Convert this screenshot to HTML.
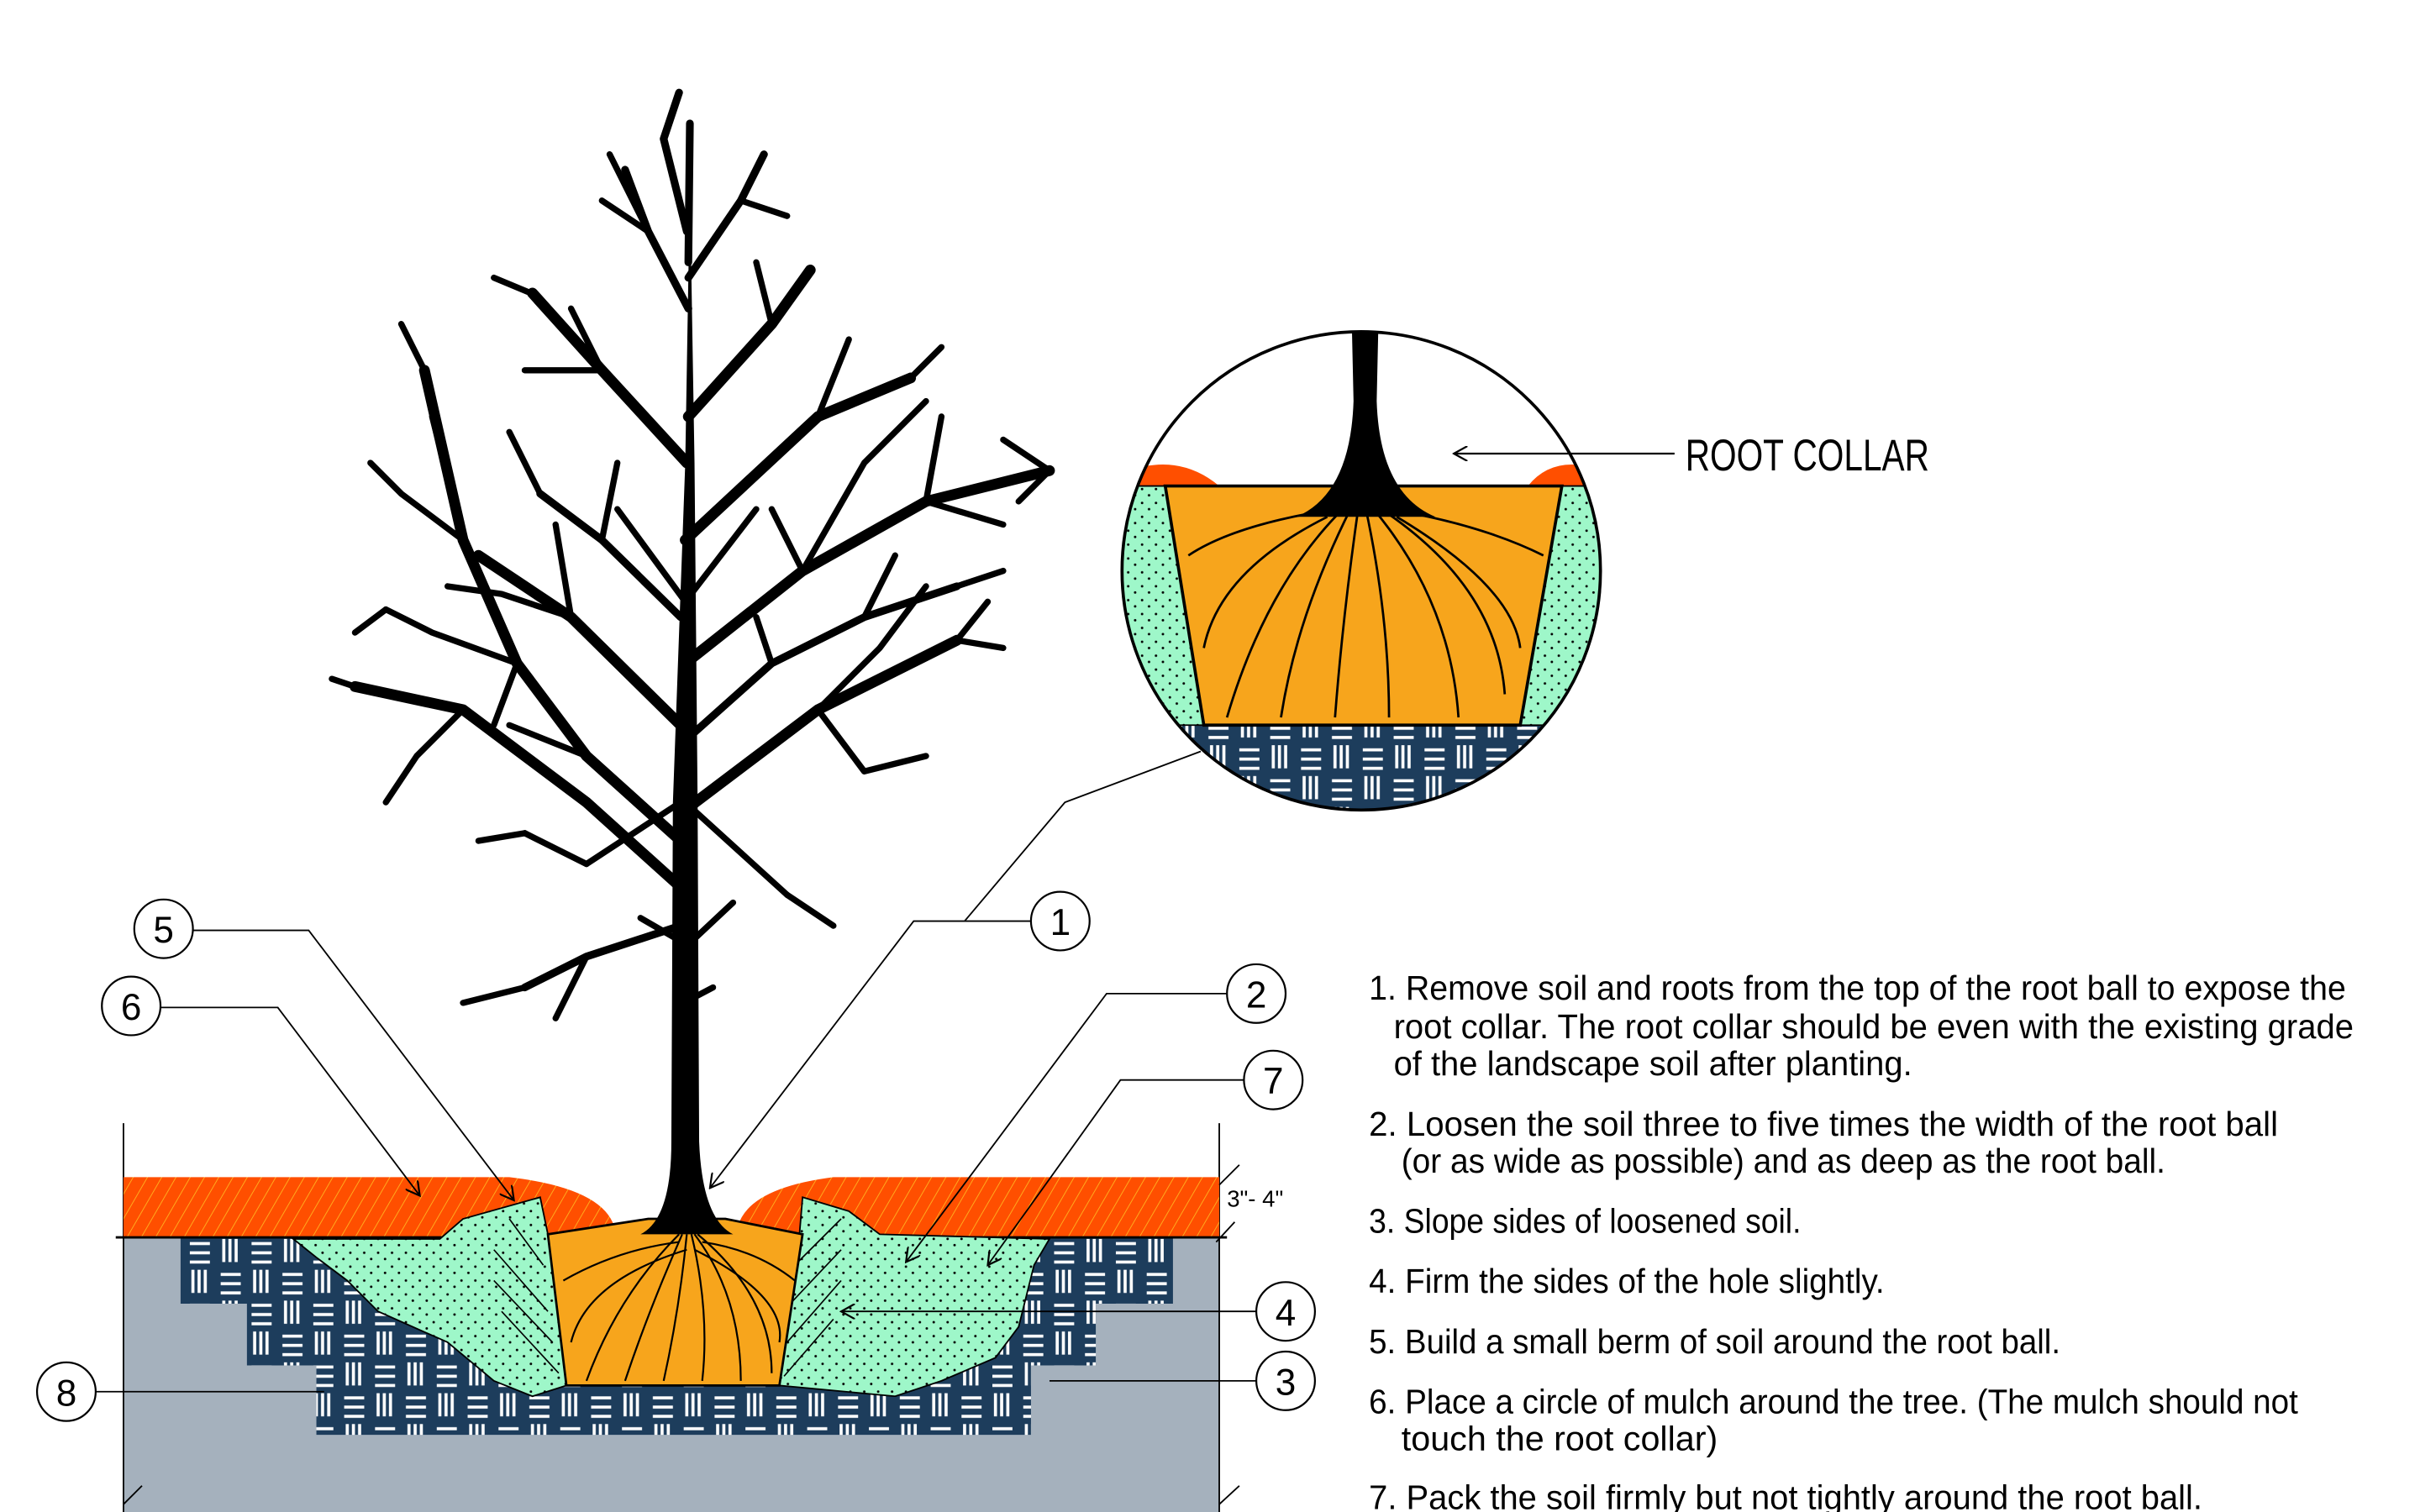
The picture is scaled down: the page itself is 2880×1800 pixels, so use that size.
<!DOCTYPE html>
<html><head><meta charset="utf-8"><style>
html,body{margin:0;padding:0;background:#fff;}
svg{display:block;}
text{font-family:"Liberation Sans Narrow","Liberation Sans",sans-serif;}
</style></head><body>
<svg width="2880" height="1800" viewBox="0 0 1568 980" preserveAspectRatio="none" xmlns="http://www.w3.org/2000/svg">
<defs>
<pattern id="mulch" width="8" height="8" patternUnits="userSpaceOnUse" patternTransform="rotate(30)">
<rect width="8" height="8" fill="#ff4f00"/><line x1="0" y1="0" x2="0" y2="8" stroke="#ffb020" stroke-width="1"/>
</pattern>
<pattern id="blue" width="40" height="40" patternUnits="userSpaceOnUse">
<rect width="40" height="40" fill="#1d3d5c"/>
<g stroke="#fff" stroke-width="2">
<line x1="3" y1="6" x2="16" y2="6"/><line x1="3" y1="12" x2="16" y2="12"/><line x1="3" y1="18" x2="16" y2="18"/>
<line x1="25" y1="3" x2="25" y2="18"/><line x1="29" y1="3" x2="29" y2="18"/><line x1="33" y1="3" x2="33" y2="18"/>
<line x1="5" y1="23" x2="5" y2="38"/><line x1="9" y1="23" x2="9" y2="38"/><line x1="13" y1="23" x2="13" y2="38"/>
<line x1="23" y1="26" x2="36" y2="26"/><line x1="23" y1="32" x2="36" y2="32"/><line x1="23" y1="38" x2="36" y2="38"/>
</g></pattern>
<pattern id="green" width="9" height="9" patternUnits="userSpaceOnUse">
<rect width="9" height="9" fill="#9ef7c9"/><circle cx="2" cy="2" r="0.8" fill="#000"/><circle cx="6.5" cy="6" r="0.8" fill="#000"/>
</pattern>
<marker id="ar" markerWidth="10" markerHeight="10" refX="9" refY="5" orient="auto" markerUnits="userSpaceOnUse">
<path d="M0,0 L9,5 L0,10" fill="none" stroke="#000" stroke-width="1.2"/></marker>
<clipPath id="cc"><circle cx="882" cy="370" r="155"/></clipPath>
</defs>

<!-- ground -->
<rect x="80" y="802" width="710" height="178" fill="#a5b1bd"/>
<line x1="80" y1="728" x2="80" y2="980" stroke="#000" stroke-width="1"/>
<line x1="790" y1="728" x2="790" y2="980" stroke="#000" stroke-width="1"/>
<path d="M117,802 H760 V845 H710 V885 H668 V930 H205 V885 H160 V845 H117 Z" fill="url(#blue)"/>
<!-- mulch -->
<path d="M80,763 H330 Q390,770 398,795 L398,802 H80 Z" fill="url(#mulch)"/>
<path d="M790,763 H540 Q485,770 478,795 L478,802 H790 Z" fill="url(#mulch)"/>
<line x1="75" y1="802" x2="795" y2="802" stroke="#000" stroke-width="1.5"/>
<!-- green soil -->
<path d="M190,803 H285 L300,790 L350,776 L355,800 L367,898 L345,905 L320,895 L290,870 L245,850 L225,830 L205,815 Z" fill="url(#green)" stroke="#000" stroke-width="1"/>
<path d="M520,776 L550,785 L570,800 L680,803 L670,820 L660,860 L645,880 L610,895 L580,905 L505,898 L518,800 Z" fill="url(#green)" stroke="#000" stroke-width="1"/>
<g stroke="#000" stroke-width="0.9">
<line x1="320" y1="810" x2="355" y2="850"/><line x1="320" y1="830" x2="358" y2="870"/><line x1="325" y1="850" x2="362" y2="890"/><line x1="330" y1="790" x2="352" y2="820"/>
<line x1="545" y1="790" x2="515" y2="820"/><line x1="545" y1="810" x2="512" y2="845"/><line x1="545" y1="830" x2="510" y2="870"/><line x1="540" y1="855" x2="508" y2="892"/>
</g>
<!-- root ball -->
<path d="M355,800 L420,790 L470,790 L520,800 L505,898 L367,898 Z" fill="#f7a51c" stroke="#000" stroke-width="1.5"/>
<g stroke="#000" stroke-width="1.2" fill="none">
<path d="M440,800 Q400,840 380,895"/><path d="M442,800 Q420,850 405,895"/><path d="M445,800 Q440,850 430,895"/>
<path d="M448,800 Q460,850 455,895"/><path d="M450,800 Q480,840 480,895"/><path d="M452,800 Q500,840 500,890"/>
<path d="M440,805 Q400,810 365,830"/><path d="M455,805 Q490,810 515,830"/><path d="M445,810 Q380,830 370,870"/><path d="M450,810 Q510,840 505,870"/>
</g>
<path d="M415,800 Q435,790 435,740 L436,520 L444,300 L447,120 L450,300 L452,520 L453,740 Q455,790 475,800 Z" fill="#000"/>

<!-- tree -->
<g stroke="#000" fill="none" stroke-linecap="round" stroke-linejoin="round">
<path d="M446,170 L447,80" stroke-width="5"/>
<g stroke-width="7">
<path d="M441,545 L380,490 L335,430 L300,350 L275,240"/>
<path d="M441,470 L370,400 L310,360"/>
<path d="M441,575 L380,520 L300,460 L230,445"/>
<path d="M444,430 L520,370 L600,325 L680,305"/>
<path d="M444,525 L530,460 L620,415"/>
<path d="M444,350 L530,270 L590,245"/>
<path d="M445,300 L390,240 L345,190"/>
<path d="M446,270 L500,210 L525,175"/>
</g>
<g stroke-width="5">
<path d="M446,200 L420,150 L405,110"/>
<path d="M446,180 L480,130 L495,100"/>
<path d="M445,150 L430,90 L440,60"/>
<path d="M441,600 L380,620 L340,640"/>
<path d="M444,480 L500,430 L560,400 L620,380"/>
<path d="M441,400 L390,350 L350,320"/>
</g>
<g stroke-width="4">
<path d="M300,350 L260,320 L240,300"/><path d="M335,430 L280,410 L250,395"/><path d="M300,460 L270,490 L250,520"/>
<path d="M380,490 L330,470"/><path d="M370,400 L360,340"/><path d="M370,400 L325,385 L290,380"/>
<path d="M520,370 L560,300 L600,260"/><path d="M600,325 L610,270"/><path d="M600,325 L650,340"/><path d="M530,460 L570,420 L600,380"/>
<path d="M530,460 L560,500 L600,490"/><path d="M620,415 L640,390"/><path d="M530,270 L550,220"/><path d="M590,245 L610,225"/>
<path d="M390,240 L370,200"/><path d="M390,240 L340,240"/><path d="M500,210 L490,170"/><path d="M420,150 L390,130"/>
<path d="M480,130 L510,140"/><path d="M420,150 L395,100"/><path d="M275,240 L260,210"/><path d="M300,350 L280,270"/>
<path d="M441,610 L415,595"/><path d="M443,615 L475,585"/><path d="M443,650 L462,640"/><path d="M441,520 L380,560"/>
<path d="M444,520 L510,580"/><path d="M380,560 L340,540"/><path d="M510,580 L540,600"/><path d="M340,540 L310,545"/>
<path d="M230,445 L215,440"/><path d="M250,395 L230,410"/><path d="M344,190 L320,180"/>
<path d="M680,305 L650,285"/><path d="M680,305 L660,325"/><path d="M620,415 L650,420"/>
<path d="M335,430 L320,470"/><path d="M520,370 L500,330"/><path d="M444,390 L400,330"/><path d="M444,390 L490,330"/>
<path d="M380,620 L360,660"/><path d="M340,640 L300,650"/><path d="M560,400 L580,360"/><path d="M620,380 L650,370"/>
<path d="M350,320 L330,280"/><path d="M390,350 L400,300"/><path d="M500,430 L490,400"/>
</g>
</g>

<!-- detail circle -->
<g clip-path="url(#cc)">
<rect x="720" y="210" width="330" height="330" fill="#fff"/>
<path d="M720,470 H1050 V540 H720 Z" fill="url(#blue)"/>
<path d="M720,310 Q760,290 790,315 L725,320 Z" fill="#ff4f00"/>
<path d="M1050,310 Q1010,290 990,315 L1050,320 Z" fill="#ff4f00"/>
<path d="M720,315 L755,315 L780,470 L720,470 Z" fill="url(#green)" stroke="#000" stroke-width="1"/>
<path d="M1050,315 L1012,315 L985,470 L1050,470 Z" fill="url(#green)" stroke="#000" stroke-width="1"/>
<path d="M755,315 L1012,315 L985,470 L780,470 Z" fill="#f7a51c" stroke="#000" stroke-width="2"/>
<g stroke="#000" stroke-width="1.5" fill="none">
<path d="M870,330 Q820,380 795,465"/><path d="M875,330 Q840,400 830,465"/><path d="M880,330 Q870,400 865,465"/><path d="M885,330 Q900,400 900,465"/>
<path d="M890,330 Q940,390 945,465"/><path d="M895,330 Q970,380 975,450"/><path d="M865,330 Q800,340 770,360"/><path d="M900,330 Q960,340 1000,360"/>
<path d="M860,335 Q790,370 780,420"/><path d="M905,335 Q980,380 985,420"/>
</g>
<path d="M840,335 Q875,320 877,260 L876,215 L893,215 L892,260 Q894,320 930,335 Z" fill="#000"/>
</g>
<circle cx="882" cy="370" r="155" fill="none" stroke="#000" stroke-width="2"/>
<line x1="1085" y1="294" x2="942" y2="294" stroke="#000" stroke-width="1.2" marker-end="url(#ar)"/>
<text x="1092" y="305" font-size="29" textLength="158" lengthAdjust="spacingAndGlyphs">ROOT COLLAR</text>

<!-- leaders -->
<g stroke="#000" stroke-width="1" fill="none">
<polyline points="125,603 200,603 333,778" marker-end="url(#ar)"/>
<polyline points="104,653 180,653 272,775" marker-end="url(#ar)"/>
<polyline points="668,597 592,597 460,770" marker-end="url(#ar)"/>
<polyline points="778,487 690,520 625,597"/>
<polyline points="795,644 717,644 587,818" marker-end="url(#ar)"/>
<polyline points="806,700 726,700 640,820" marker-end="url(#ar)"/>
<polyline points="814,850 545,850" marker-end="url(#ar)"/>
<polyline points="814,895 680,895"/>
<polyline points="62,902 210,902"/>
<line x1="80" y1="975" x2="92" y2="963"/><line x1="790" y1="975" x2="803" y2="963"/>
<line x1="790" y1="768" x2="803" y2="755"/><line x1="788" y1="805" x2="800" y2="792"/>
</g>
<g fill="#fff" stroke="#000" stroke-width="1.2">
<circle cx="106" cy="602" r="19"/><circle cx="85" cy="652" r="19"/><circle cx="687" cy="597" r="19"/>
<circle cx="814" cy="644" r="19"/><circle cx="825" cy="700" r="19"/><circle cx="833" cy="850" r="19"/>
<circle cx="833" cy="895" r="19"/><circle cx="43" cy="902" r="19"/>
</g>
<g font-size="24" text-anchor="middle">
<text x="106" y="611">5</text><text x="85" y="661">6</text><text x="687" y="606">1</text><text x="814" y="653">2</text>
<text x="825" y="709">7</text><text x="833" y="859">4</text><text x="833" y="904">3</text><text x="43" y="911">8</text>
</g>
<text x="795" y="782" font-size="15">3"- 4"</text>

<!-- instructions -->
<g font-size="22">
<text x="887" y="648" textLength="633" lengthAdjust="spacingAndGlyphs">1. Remove soil and roots from the top of the root ball to expose the</text>
<text x="903" y="673" textLength="622" lengthAdjust="spacingAndGlyphs">root collar. The root collar should be even with the existing grade</text>
<text x="903" y="697" textLength="336" lengthAdjust="spacingAndGlyphs">of the landscape soil after planting.</text>
<text x="887" y="736" textLength="589" lengthAdjust="spacingAndGlyphs">2. Loosen the soil three to five times the width of the root ball</text>
<text x="908" y="760" textLength="495" lengthAdjust="spacingAndGlyphs">(or as wide as possible) and as deep as the root ball.</text>
<text x="887" y="799" textLength="280" lengthAdjust="spacingAndGlyphs">3. Slope sides of loosened soil.</text>
<text x="887" y="838" textLength="334" lengthAdjust="spacingAndGlyphs">4. Firm the sides of the hole slightly.</text>
<text x="887" y="877" textLength="448" lengthAdjust="spacingAndGlyphs">5. Build a small berm of soil around the root ball.</text>
<text x="887" y="916" textLength="602" lengthAdjust="spacingAndGlyphs">6. Place a circle of mulch around the tree. (The mulch should not</text>
<text x="908" y="940" textLength="205" lengthAdjust="spacingAndGlyphs">touch the root collar)</text>
<text x="887" y="978" textLength="540" lengthAdjust="spacingAndGlyphs">7. Pack the soil firmly but not tightly around the root ball.</text>
</g>
</svg>
</body></html>
